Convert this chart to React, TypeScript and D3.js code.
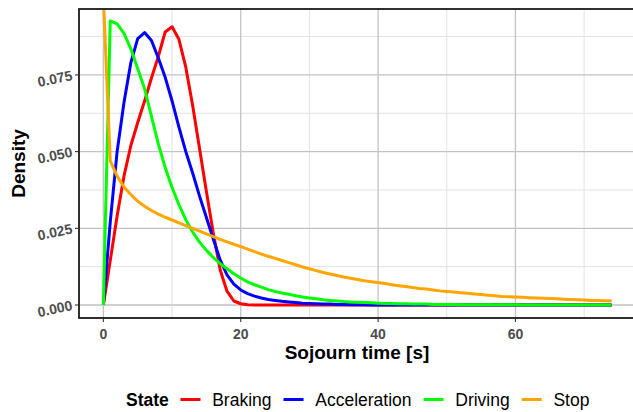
import React, { useEffect, useRef } from 'react';
import * as d3 from 'd3';

// sojourn time grid [s]
const time = [
  0, 1, 2, 3, 4, 5, 6, 7, 8, 9,
  10, 11, 12, 13, 14, 15, 16, 17, 18, 19,
  20, 21, 22, 23, 24, 25, 26, 27, 28, 29,
  30, 31, 32, 33, 34, 35, 36, 37, 38, 39,
  40, 41, 42, 43, 44, 45, 46, 47, 48, 49,
  50, 51, 52, 53, 54, 55, 56, 57, 58, 59,
  60, 61, 62, 63, 64, 65, 66, 67, 68, 69,
  70, 71, 72, 73, 74,
];

const braking = [
  0, 0.0145, 0.029, 0.042, 0.052, 0.0595, 0.0665, 0.074, 0.081, 0.089,
  0.0907, 0.0866, 0.0775, 0.065, 0.051, 0.037, 0.0235, 0.0115, 0.0045, 0.0013,
  0.0004, 0.0001, 0, 0, 0, 0, 0, 0, 0, 0,
  0, 0, 0, 0, 0, 0, 0, 0, 0, 0,
  0, 0, 0, 0, 0, 0, 0, 0, 0, 0,
  0, 0, 0, 0, 0, 0, 0, 0, 0, 0,
  0, 0, 0, 0, 0, 0, 0, 0, 0, 0,
  0, 0, 0, 0, 0,
];

const acceleration = [
  0, 0.027, 0.05, 0.066, 0.079, 0.0868, 0.0888, 0.0862, 0.0805, 0.0742,
  0.0665, 0.058, 0.05, 0.043, 0.0355, 0.0285, 0.0215, 0.0147, 0.0098, 0.0068,
  0.0049, 0.0037, 0.0029, 0.0023, 0.0018, 0.0015, 0.0012, 0.001, 0.0008, 0.0006,
  0.0005, 0.0004, 0.0003, 0.0003, 0.0002, 0.0002, 0.0001, 0.0001, 0.0001, 0,
  0, 0, 0, 0, 0, 0, 0, 0, 0, 0,
  0, 0, 0, 0, 0, 0, 0, 0, 0, 0,
  0, 0, 0, 0, 0, 0, 0, 0, 0, 0,
  0, 0, 0, 0, 0,
];

const driving = [
  0, 0.0926, 0.0916, 0.0885, 0.0835, 0.077, 0.0705, 0.0615, 0.0525, 0.0448,
  0.0383, 0.0327, 0.0278, 0.0238, 0.0205, 0.0178, 0.0155, 0.0135, 0.0118, 0.0102,
  0.0088, 0.0075, 0.0066, 0.0058, 0.005, 0.0044, 0.0039, 0.0035, 0.003, 0.0026,
  0.0023, 0.002, 0.0017, 0.0015, 0.0013, 0.0011, 0.001, 0.0009, 0.0008, 0.0007,
  0.0006, 0.0005, 0.0005, 0.0004, 0.0004, 0.0003, 0.0003, 0.0003, 0.0002, 0.0002,
  0.0002, 0.0002, 0.0001, 0.0001, 0.0001, 0.0001, 0.0001, 0.0001, 0.0001, 0.0001,
  0.0001, 0, 0, 0, 0, 0, 0, 0, 0, 0,
  0, 0, 0, 0, 0,
];

const stop = [
  0.1, 0.047, 0.042, 0.0385, 0.036, 0.0338, 0.0322, 0.0308, 0.0296, 0.0286,
  0.0277, 0.0268, 0.0259, 0.025, 0.0241, 0.0232, 0.0223, 0.0214, 0.0206, 0.0198,
  0.019, 0.0182, 0.0174, 0.0166, 0.0159, 0.0152, 0.0145, 0.0138, 0.0131, 0.0124,
  0.0118, 0.0112, 0.0106, 0.0101, 0.0096, 0.0091, 0.0087, 0.0083, 0.0079, 0.0076,
  0.0073, 0.007, 0.0066, 0.0063, 0.006, 0.0057, 0.0054, 0.0052, 0.0049, 0.0046,
  0.0044, 0.0042, 0.004, 0.0038, 0.0036, 0.0034, 0.0032, 0.003, 0.0028, 0.0027,
  0.0026, 0.0025, 0.0024, 0.0023, 0.0022, 0.0021, 0.002, 0.0019, 0.0018, 0.0017,
  0.0016, 0.0015, 0.0015, 0.0014, 0.0013,
];

const states = ['Braking', 'Acceleration', 'Driving', 'Stop'];
const stateColors = ['#ff0000', '#0000ff', '#00ff00', '#ffa500'];
const seriesValues = [braking, acceleration, driving, stop];

const xTicks = [0, 20, 40, 60];
const xMinorTicks = [10, 30, 50, 70];
const yTicks = [0, 0.025, 0.05, 0.075];
const yMinorTicks = [0.0125, 0.0375, 0.0625, 0.0875];

const App = () => {
  const svgRef = useRef<SVGSVGElement>(null);

  useEffect(() => {
    const left = 79;
    const right = 637;
    const top = 9;
    const bottom = 318;
    const font = '"Liberation Sans", Arial, Helvetica, sans-serif';

    const svg = d3.select(svgRef.current);
    svg.selectAll('*').remove();
    svg.style('font-family', font);

    const x = d3.scaleLinear().domain([-3.55, 77.7]).range([left, right]);
    const y = d3.scaleLinear().domain([-0.00424, 0.09648]).range([bottom, top]);

    svg.append('rect').attr('width', 633).attr('height', 412).attr('fill', '#ffffff');

    svg.append('defs')
      .append('clipPath')
      .attr('id', 'panel-clip')
      .append('rect')
      .attr('x', left)
      .attr('y', top)
      .attr('width', right - left)
      .attr('height', bottom - top);

    // grid
    const grid = svg.append('g');
    grid.selectAll('.xminor')
      .data(xMinorTicks)
      .enter()
      .append('line')
      .attr('x1', (d) => x(d)).attr('x2', (d) => x(d))
      .attr('y1', top).attr('y2', bottom)
      .attr('stroke', '#e2e2e2').attr('stroke-width', 1);
    grid.selectAll('.yminor')
      .data(yMinorTicks)
      .enter()
      .append('line')
      .attr('x1', left).attr('x2', right)
      .attr('y1', (d) => y(d)).attr('y2', (d) => y(d))
      .attr('stroke', '#e2e2e2').attr('stroke-width', 1);
    grid.selectAll('.xmajor')
      .data(xTicks)
      .enter()
      .append('line')
      .attr('x1', (d) => x(d)).attr('x2', (d) => x(d))
      .attr('y1', top).attr('y2', bottom)
      .attr('stroke', '#c2c2c2').attr('stroke-width', 1.3);
    grid.selectAll('.ymajor')
      .data(yTicks)
      .enter()
      .append('line')
      .attr('x1', left).attr('x2', right)
      .attr('y1', (d) => y(d)).attr('y2', (d) => y(d))
      .attr('stroke', '#c2c2c2').attr('stroke-width', 1.3);

    // curves
    const line = d3
      .line<number>()
      .x((d, i) => x(time[i]))
      .y((d) => y(d));

    svg.append('g')
      .attr('clip-path', 'url(#panel-clip)')
      .selectAll('path')
      .data(seriesValues)
      .enter()
      .append('path')
      .attr('fill', 'none')
      .attr('stroke', (d, i) => stateColors[i])
      .attr('stroke-width', 3)
      .attr('stroke-linejoin', 'round')
      .attr('d', (d) => line(d));

    // panel border
    svg.append('rect')
      .attr('x', left).attr('y', top)
      .attr('width', right - left).attr('height', bottom - top)
      .attr('fill', 'none')
      .attr('stroke', '#1a1a1a')
      .attr('stroke-width', 1.8);

    // axis ticks
    svg.append('g')
      .selectAll('line')
      .data(xTicks)
      .enter()
      .append('line')
      .attr('x1', (d) => x(d)).attr('x2', (d) => x(d))
      .attr('y1', bottom).attr('y2', bottom + 4)
      .attr('stroke', '#333333').attr('stroke-width', 1.1);
    svg.append('g')
      .selectAll('line')
      .data(yTicks)
      .enter()
      .append('line')
      .attr('x1', left - 4).attr('x2', left)
      .attr('y1', (d) => y(d)).attr('y2', (d) => y(d))
      .attr('stroke', '#333333').attr('stroke-width', 1.1);

    // tick labels
    svg.append('g')
      .selectAll('text')
      .data(xTicks)
      .enter()
      .append('text')
      .attr('x', (d) => x(d))
      .attr('y', 338.5)
      .attr('text-anchor', 'middle')
      .attr('font-size', 14)
      .attr('font-weight', 'bold')
      .attr('fill', '#4d4d4d')
      .text((d) => d3.format('d')(d));

    svg.append('g')
      .selectAll('text')
      .data(yTicks)
      .enter()
      .append('text')
      .attr('transform', (d) => `translate(72,${y(d)}) rotate(-12)`)
      .attr('x', 0)
      .attr('y', 5)
      .attr('text-anchor', 'end')
      .attr('font-size', 14)
      .attr('font-weight', 'bold')
      .attr('fill', '#4d4d4d')
      .text((d) => d3.format('.3f')(d));

    // axis titles
    svg.append('text')
      .attr('x', (left + right) / 2 - 1)
      .attr('y', 358.5)
      .attr('text-anchor', 'middle')
      .attr('font-size', 19)
      .attr('font-weight', 'bold')
      .attr('fill', '#000000')
      .text('Sojourn time [s]');

    svg.append('text')
      .attr('transform', `translate(24.5,${(top + bottom) / 2}) rotate(-90)`)
      .attr('text-anchor', 'middle')
      .attr('font-size', 19)
      .attr('font-weight', 'bold')
      .attr('fill', '#000000')
      .text('Density');

    // legend
    const legend = svg.append('g');
    const baseY = 405.5;
    const keyY = 399.5;
    let cursor = 126;
    const title = legend.append('text')
      .attr('x', cursor)
      .attr('y', baseY)
      .attr('font-size', 17.5)
      .attr('font-weight', 'bold')
      .attr('fill', '#000000')
      .text('State');
    cursor += (title.node() as SVGTextElement).getComputedTextLength() + 11.7;

    states.forEach((s, i) => {
      legend.append('line')
        .attr('x1', cursor).attr('x2', cursor + 20)
        .attr('y1', keyY).attr('y2', keyY)
        .attr('stroke', stateColors[i])
        .attr('stroke-width', 3);
      cursor += 20 + 11.7;
      const label = legend.append('text')
        .attr('x', cursor)
        .attr('y', baseY)
        .attr('font-size', 17.5)
        .attr('fill', '#000000')
        .text(s);
      cursor += (label.node() as SVGTextElement).getComputedTextLength() + 12;
    });
  }, []);

  return (
    <svg
      ref={svgRef}
      width={633}
      height={412}
      style={{ position: 'absolute', left: 0, top: 0 }}
    />
  );
};

export default App;
